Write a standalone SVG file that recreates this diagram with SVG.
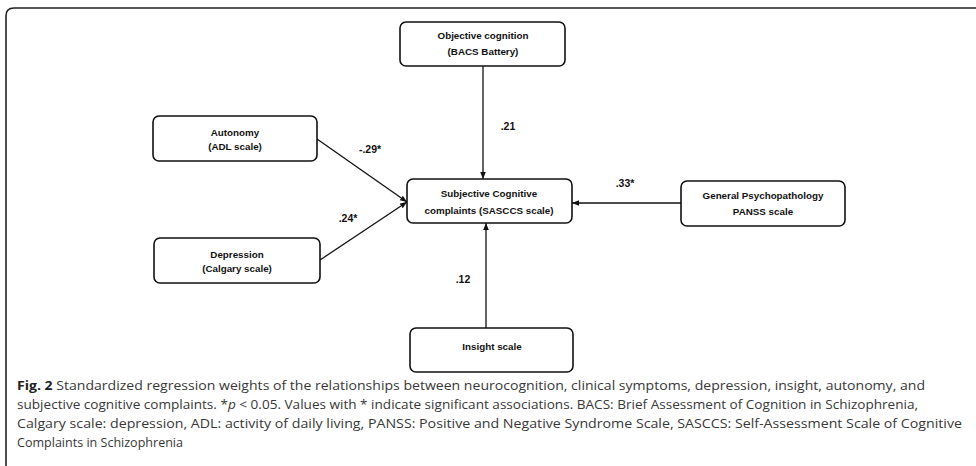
<svg xmlns="http://www.w3.org/2000/svg" width="976" height="466" viewBox="0 0 976 466">
<style>
.box{fill:#fff;stroke:#111;stroke-width:1.6}
.nt{font-family:"Liberation Sans",Arial,sans-serif;font-weight:bold;font-size:9.8px;fill:#111;text-anchor:middle}
.lb{font-family:"Liberation Sans",Arial,sans-serif;font-weight:bold;font-size:10.5px;fill:#111;text-anchor:middle}
.cn{stroke:#111;stroke-width:1.3;fill:none;marker-end:url(#ah)}
.cap{font-family:"Open Sans","Liberation Sans",sans-serif;font-size:12.5px;fill:#383838}
</style>
<defs>
<marker id="ah" viewBox="0 0 10 10" refX="10" refY="5" markerWidth="7" markerHeight="7" orient="auto" markerUnits="userSpaceOnUse">
<path d="M0,1 L10,5 L0,9 z" fill="#111"/>
</marker>
</defs>
<rect x="0" y="0" width="976" height="466" fill="#fff"/>
<path d="M6,480 L6,16 Q6,8 14,8 L990,8" fill="none" stroke="#222" stroke-width="1.6"/>

<g id="connectors">
<line class="cn" x1="483" y1="66" x2="483" y2="179"/>
<line class="cn" x1="317" y1="139" x2="407" y2="202"/>
<line class="cn" x1="320" y1="260" x2="407" y2="202"/>
<line class="cn" x1="681" y1="203" x2="572" y2="203"/>
<line class="cn" x1="486" y1="328" x2="486" y2="223"/>
<text class="lb" x="508" y="130">.21</text>
<text class="lb" x="370" y="153">-.29*</text>
<text class="lb" x="348" y="222">.24*</text>
<text class="lb" x="625" y="187">.33*</text>
<text class="lb" x="463" y="283">.12</text>
</g>

<g id="objective">
<rect class="box" x="400" y="22" width="165" height="44" rx="6"/>
<text class="nt" x="483" y="39">Objective cognition</text>
<text class="nt" x="483" y="55">(BACS Battery)</text>
</g>
<g id="autonomy">
<rect class="box" x="153" y="116" width="164" height="45" rx="6"/>
<text class="nt" x="235" y="136">Autonomy</text>
<text class="nt" x="235" y="150">(ADL scale)</text>
</g>
<g id="depression">
<rect class="box" x="154" y="238" width="166" height="45" rx="6"/>
<text class="nt" x="237" y="258">Depression</text>
<text class="nt" x="237" y="272">(Calgary scale)</text>
</g>
<g id="subjective">
<rect class="box" x="407" y="179" width="165" height="44" rx="6"/>
<text class="nt" x="489" y="197">Subjective Cognitive</text>
<text class="nt" x="489" y="214">complaints (SASCCS scale)</text>
</g>
<g id="general">
<rect class="box" x="681" y="181" width="164" height="45" rx="6"/>
<text class="nt" x="763" y="199">General Psychopathology</text>
<text class="nt" x="763" y="215">PANSS scale</text>
</g>
<g id="insight">
<rect class="box" x="410" y="328" width="163" height="44" rx="6"/>
<text class="nt" x="492" y="350">Insight scale</text>
</g>

<g id="caption">
<text class="cap" x="17" y="390" textLength="908" lengthAdjust="spacingAndGlyphs"><tspan font-weight="bold" fill="#222">Fig. 2</tspan> Standardized regression weights of the relationships between neurocognition, clinical symptoms, depression, insight, autonomy, and</text>
<text class="cap" x="17" y="409" textLength="901" lengthAdjust="spacingAndGlyphs">subjective cognitive complaints. *<tspan font-style="italic">p</tspan> &lt; 0.05. Values with * indicate significant associations. BACS: Brief Assessment of Cognition in Schizophrenia,</text>
<text class="cap" x="17" y="428" textLength="945" lengthAdjust="spacingAndGlyphs">Calgary scale: depression, ADL: activity of daily living, PANSS: Positive and Negative Syndrome Scale, SASCCS: Self-Assessment Scale of Cognitive</text>
<text class="cap" x="17" y="447" textLength="166" lengthAdjust="spacingAndGlyphs">Complaints in Schizophrenia</text>
</g>
</svg>
